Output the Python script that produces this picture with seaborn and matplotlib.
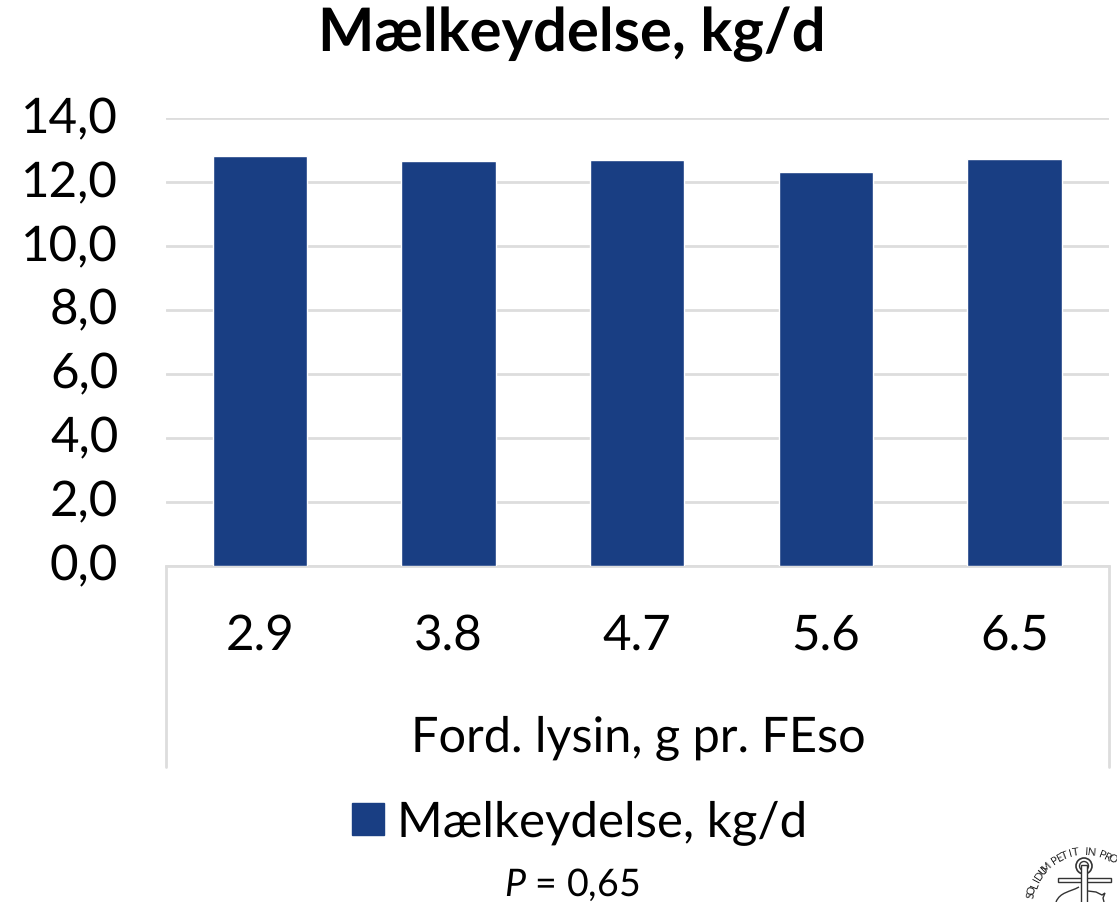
import numpy as np
import pandas as pd
import matplotlib
matplotlib.use("Agg")
import matplotlib.pyplot as plt
from matplotlib.lines import Line2D
from matplotlib.patches import Circle, PathPatch, Patch
from matplotlib.path import Path
from matplotlib.transforms import ScaledTranslation
import seaborn as sns

categories = ["2.9", "3.8", "4.7", "5.6", "6.5"]
milk_yield = [12.81, 12.67, 12.68, 12.31, 12.72]
series_name = "Mælkeydelse, kg/d"
x_title = "Ford. lysin, g pr. FEso"
y_ticks = [0, 2, 4, 6, 8, 10, 12, 14]

W, H = 1117, 902
BLUE = "#193E83"
GRID = "#DDDDDD"

sns.set_theme(style="white")
plt.rcParams["font.family"] = ["Lato", "DejaVu Sans"]
plt.rcParams["mathtext.fontset"] = "custom"
plt.rcParams["mathtext.it"] = "Lato:italic"
plt.rcParams["mathtext.rm"] = "Lato"
plt.rcParams["text.hinting"] = "none"

fig = plt.figure(figsize=(W / 100, H / 100), dpi=100, facecolor="white")
L, R, T, B = 165.5, 1109, 118, 565.5
ax = fig.add_axes([L / W, 1 - B / H, (R - L) / W, (B - T) / H])

df = pd.DataFrame({"lysin": categories, "yield": milk_yield})
sns.barplot(data=df, x="lysin", y="yield", color=BLUE, saturation=1, width=0.5,
            ax=ax, zorder=3)
ax.set_xlim(-0.5, 4.5)
ax.set_ylim(0, 14)
ax.set_yticks(y_ticks)
ax.set_yticklabels([f"{v},0" for v in y_ticks], fontsize=35.5, color="black")
ax.tick_params(axis="y", length=0, pad=34)
ax.tick_params(axis="x", length=0, pad=34.5, labelsize=35.5, labelcolor="black")
shift = ScaledTranslation(0, 3 / 100, fig.dpi_scale_trans)
for lab in ax.get_yticklabels():
    lab.set_transform(lab.get_transform() + shift)
ax.set_xlabel("")
ax.set_ylabel("")
ax.grid(axis="y", color=GRID, linewidth=2, zorder=0)
ax.set_axisbelow(True)
for s in ["top", "right", "left"]:
    ax.spines[s].set_visible(False)
ax.spines["bottom"].set_color(GRID)
ax.spines["bottom"].set_linewidth(2)
ax.spines["bottom"].set_zorder(2)


def px(x, y):
    return x / W, 1 - y / H


# Two-level category axis side rules
for xp in (L, R):
    x0, y0 = px(xp, B)
    x1, y1 = px(xp, 767)
    fig.add_artist(Line2D([x0, x1], [y0, y1], color=GRID, lw=2))

fig.text(*px(572, 34), series_name, fontsize=43, fontweight="bold",
         ha="center", va="center", color="black")
fig.text(*px(638, 738), x_title, fontsize=35, ha="center", va="center", color="black")

leg = fig.legend(handles=[Patch(color=BLUE, label=series_name)],
                 loc="center", bbox_to_anchor=px(580, 823), frameon=False,
                 fontsize=35.5, handlelength=0.63, handleheight=0.63,
                 handletextpad=0.28, labelcolor="black", borderpad=0)
fig.text(*px(572, 885), r"$\mathit{P}$ = 0,65", fontsize=27, ha="center",
         va="center", color="black")

# Partial seal cropped by the lower right corner of the figure
overlay = fig.add_axes([0, 0, 1, 1], facecolor="none", zorder=5)
overlay.set_xlim(0, W)
overlay.set_ylim(H, 0)
overlay.axis("off")
cx, cy, r = 1084, 905, 53
seal = "SOLIDUM PETIT IN PRO"
for i, ch in enumerate(seal):
    a = np.deg2rad(-80 + i * 5.9)
    overlay.text(cx + r * np.sin(a), cy - r * np.cos(a), ch, fontsize=8,
                 rotation=-np.rad2deg(a), ha="center", va="center",
                 color="#222222", rotation_mode="anchor")
overlay.add_patch(Circle((1084, 866), 8, fill=False, ec="#333333", lw=1.2))
overlay.add_patch(Circle((1084, 866), 4.5, fill=False, ec="#333333", lw=1))
overlay.add_patch(plt.Rectangle((1057.5, 877.5), 53, 4, fc="white", ec="#333333", lw=1))
overlay.add_patch(plt.Rectangle((1081, 865), 6, 40, fc="white", ec="#333333", lw=1, zorder=4))
fish1 = Path([(1056, 902), (1060, 892), (1070, 892), (1079, 887)],
             [Path.MOVETO, Path.CURVE4, Path.CURVE4, Path.CURVE4])
fish2 = Path([(1088, 891), (1096, 892), (1102, 895), (1105, 893), (1103, 898), (1104, 902)],
             [Path.MOVETO, Path.LINETO, Path.LINETO, Path.LINETO, Path.LINETO, Path.LINETO])
for p in (fish1, fish2):
    overlay.add_patch(PathPatch(p, fill=False, ec="#333333", lw=1))

fig.savefig("out.png", dpi=100, facecolor="white")
